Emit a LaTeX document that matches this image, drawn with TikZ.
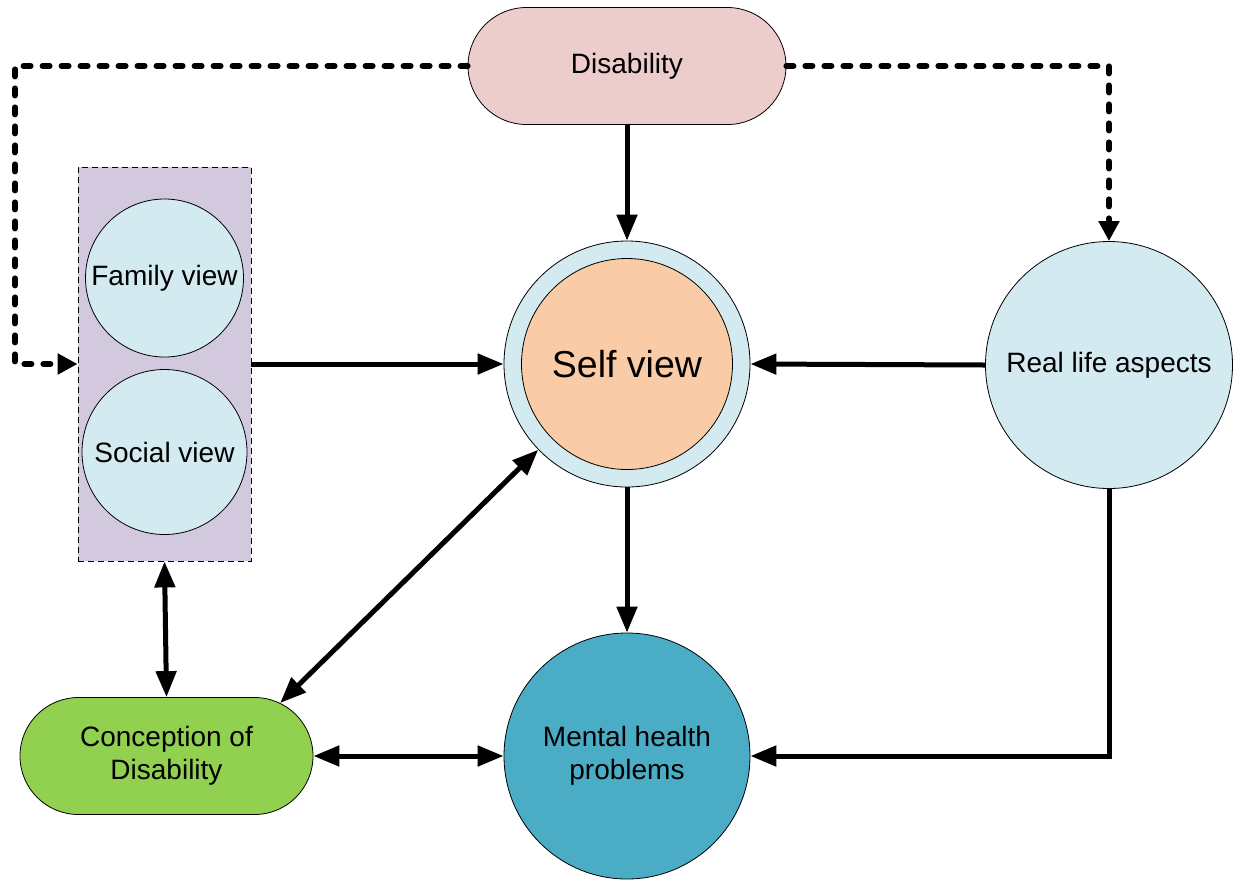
\documentclass[tikz,border=0pt]{standalone}
\usepackage{fontspec}
\setmainfont{Liberation Sans}
\usetikzlibrary{arrows.meta,shapes.misc}

\definecolor{dispink}{RGB}{236,205,204}
\definecolor{paleblue}{RGB}{210,234,240}
\definecolor{lilac}{RGB}{210,201,222}
\definecolor{peach}{RGB}{249,203,166}
\definecolor{teal}{RGB}{75,172,198}
\definecolor{leaf}{RGB}{146,208,80}

\begin{document}
\begin{tikzpicture}[%
            x=0.5pt, y=-0.5pt,
            font=\fontsize{14}{16.5}\selectfont,
            bubble/.style={shape=circle, draw, inner sep=0pt, fill=paleblue, align=center},
            pill/.style={shape=rounded rectangle, draw, inner sep=0pt, align=center,
                         minimum height=58.5pt},
            link/.style={line width=2.5pt, -{Triangle[length=13pt,width=10pt]}},
            twolink/.style={line width=2.5pt,
                            {Triangle[length=13pt,width=10pt]}-{Triangle[length=13pt,width=10pt]}},
            dotlink/.style={line width=3pt, line cap=round, dash pattern=on 3.5pt off 6pt,
                            -{Triangle[length=10pt,width=10pt]}}
        ]
        \useasboundingbox (0,0) rectangle (1233,880);

        % boxes and circles
        \node [pill, fill=dispink, minimum width=159pt] (dis) at (627,66) {Disability};
        \node [draw, densely dashed, line width=0.4pt, fill=lilac,
               minimum width=86.5pt, minimum height=197pt] (views) at (164.5,364) {};
        \node [bubble, minimum size=79pt] (family) at (164.5,278) {Family view};
        \node [bubble, minimum size=82.5pt] (social) at (164.5,452) {Social view};
        \node [bubble, minimum size=123pt] (selfring) at (627,364) {};
        \node [bubble, fill=peach, minimum size=105.5pt,
               font=\fontsize{18.75}{22}\selectfont] (self) at (627,364) {Self view};
        \node [bubble, minimum size=123.5pt] (real) at (1109,365) {Real life aspects};
        \node [bubble, fill=teal, minimum size=123pt] (mental) at (627,756)
              {Mental health\\problems};
        \node [pill, fill=leaf, minimum width=146.5pt] (concept) at (166.5,756)
              {Conception of\\Disability};

        \coordinate (lbend) at (15,66);

        % dashed links from disability
        \draw [dotlink] (dis.west) -- (lbend) |- (views.west);
        \draw [dotlink] (dis.east) -| (real.north);

        % solid links
        \draw [link] (dis.south) -- (selfring.north);
        \draw [link] (views.east) -- (selfring.west);
        \draw [link] (real.west) -- (selfring.east);
        \draw [link] (selfring.south) -- (mental.north);
        \draw [link] (real.south) |- (mental.east);
        \draw [twolink] (concept.east) -- (mental.west);
        \draw [twolink] (views.south) -- (concept.north);
        \draw [twolink] (concept.25) -- (selfring.224);
    \end{tikzpicture}
\end{document}
